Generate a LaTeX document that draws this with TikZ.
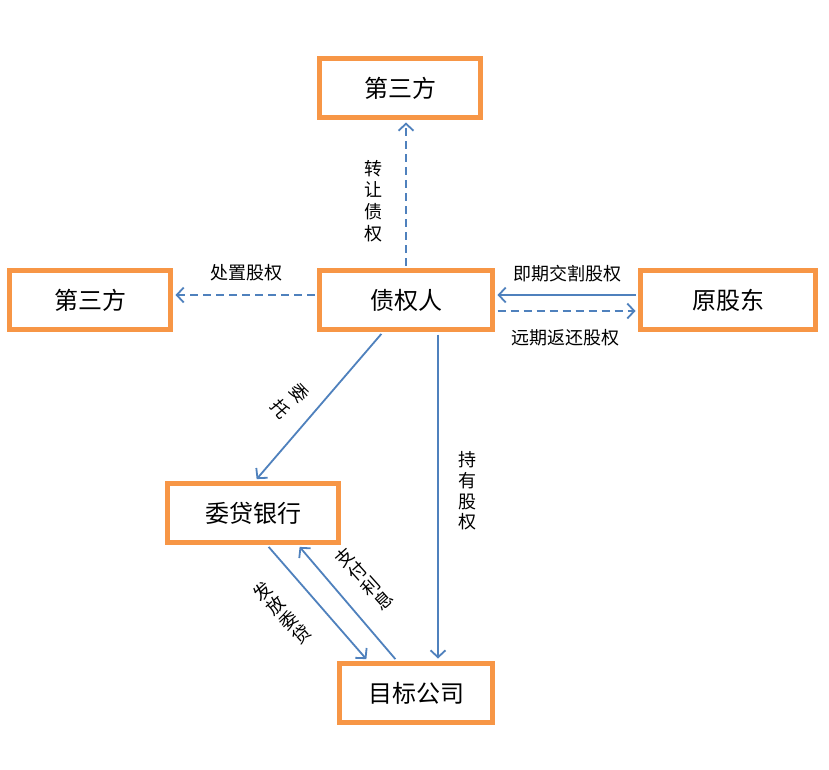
\documentclass[tikz,border=0pt]{standalone}
\usepackage{fontspec}
\newfontfamily\cjk{Noto Sans CJK SC}
\usetikzlibrary{arrows.meta}
\definecolor{boxorange}{HTML}{F79646}
\definecolor{linkblue}{HTML}{4F81BD}

\begin{document}
\begin{tikzpicture}[x=1pt,y=-1pt,
	party/.style={draw=boxorange, line width=5pt, fill=white, minimum height=59pt, inner sep=0pt, font=\cjk\fontsize{24}{28}\selectfont},
	link/.style={draw=linkblue, line width=1.8pt, shorten >=2.5pt, shorten <=2.5pt, -{Straight Barb[length=7pt,width=15pt]}},
	later/.style={link, dash pattern=on 8pt off 5pt},
	deal/.style={inner sep=0pt, align=center, font=\cjk\fontsize{18}{21}\selectfont}]
			%%%%% START %%%%%
			
			\useasboundingbox[fill=white] (0, 0) rectangle (829, 769);
			
			\node[party, minimum width=161pt] (buyerA) at (400, 88) {第三方};
			\node[party, minimum width=161pt] (buyerB) at (90, 300) {第三方};
			\node[party, minimum width=173pt] (creditor) at (406, 300) {债权人};
			\node[party, minimum width=175pt] (holder) at (728, 300) {原股东};
			\node[party, minimum width=171pt] (bank) at (253, 513) {委贷银行};
			\node[party, minimum width=153pt] (target) at (416, 693) {目标公司};
			
			\draw[later] (creditor.north) -- (creditor.north |- buyerA.south);
			\draw[later] ([yshift=5pt]creditor.west) -- ([yshift=5pt]creditor.west -| buyerB.east);
			\draw[link] ([yshift=5pt]holder.west) -- ([yshift=5pt]holder.west -| creditor.east);
			\draw[later] ([yshift=-11pt]creditor.east) -- ([yshift=-11pt]creditor.east -| holder.west);
			
			\draw[link] ([xshift=-23pt]creditor.south) -- ([xshift=2pt]bank.north);
			\draw[link] ([xshift=32pt]creditor.south) -- ([xshift=32pt]creditor.south |- target.north);
			\draw[link] ([xshift=14pt]bank.south) -- ([xshift=-48pt]target.north);
			\draw[link] ([xshift=-19pt]target.north) -- ([xshift=45pt]bank.south);
			
			\node[deal, font=\cjk\fontsize{18}{21.7}\selectfont] (sell) at (373, 201) {转\\让\\债\\权};
			\node[deal] (dispose) at (246, 273) {处置股权};
			\node[deal] (spot) at (567, 274) {即期交割股权};
			\node[deal] (forward) at (565, 338) {远期返还股权};
			\node[deal, font=\cjk\fontsize{18}{24}\selectfont, rotate=-50] (entrust) at (290, 401) {委\\托};
			\node[deal, font=\cjk\fontsize{18}{20.7}\selectfont] (hold) at (467, 491) {持\\有\\股\\权};
			\node[deal, font=\cjk\fontsize{18}{19.5}\selectfont, rotate=42] (lend) at (282, 613) {发\\放\\委\\贷};
			\node[deal, font=\cjk\fontsize{18}{19.5}\selectfont, rotate=42] (interest) at (364, 579) {支\\付\\利\\息};
			
			%%%%% END %%%%%
		\end{tikzpicture}
\end{document}
